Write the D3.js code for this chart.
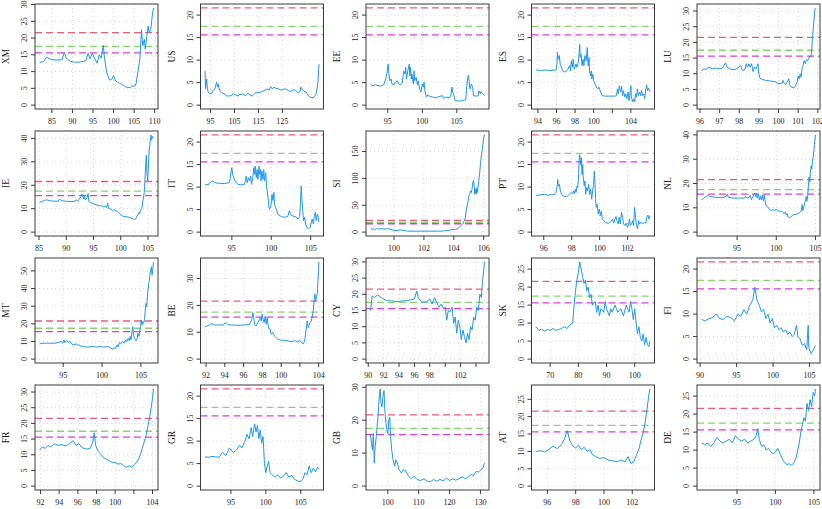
<!DOCTYPE html>
<html>
<head>
<meta charset="utf-8">
<script src="https://cdn.jsdelivr.net/npm/d3@7"></script>
<style>
  body { margin: 0; background: #fff; }
  text { font-family: "Liberation Serif", "DejaVu Serif", serif; fill: #222; }
</style>
</head>
<body>
<div id="chart"></div>
<script>
// panel order, row by row
const codes = ["XM", "US", "EE", "ES", "LU", "IE", "IT", "SI", "PT", "NL",
               "MT", "BE", "CY", "SK", "FI", "FR", "GR", "GB", "AT", "DE"];

// threshold levels drawn as dashed lines
const thresholds = [21.6, 17.5, 15.6];
const thresholdColors = ["#ec5a78", "#86d56f", "#d93fd6"];

// series: [time, value]
const XM = [[82,12.7],[83,13],[83.7,14.3],[84.5,13.8],[85.5,13.5],[86.5,13.4],[87.5,13.6],[88,15.8],[88.5,14],[89.5,13],[90.5,12.8],[91.5,12.8],[92.5,13],[93.3,13.3],[93.8,15.5],[94.3,13.8],[94.8,15.5],[95.3,14.2],[96,12.5],[96.5,15],[97,14],[97.5,17.8],[97.8,14],[98.3,10],[99,7.5],[99.5,7.6],[100,8.8],[100.5,7.2],[101,6.8],[101.5,6.5],[102,6.2],[102.5,5.8],[103,5.4],[103.5,5.3],[104,5.2],[104.5,5.8],[105.1,5.6],[105.5,6.5],[105.9,9.8],[106.4,13.7],[106.8,22.5],[107.1,17.7],[107.5,19.6],[107.7,16.7],[108,19.6],[108.4,23.6],[108.65,21.6],[109.05,22.6],[109.4,26.5],[109.7,29]];
const US = [[92.7,7.6],[92.9,3.6],[93.4,5.8],[93.6,4],[94.0,2.9],[94.7,2.5],[95.4,2.6],[96.1,3.2],[96.8,3.6],[97.5,5.1],[97.9,4],[98.2,4.7],[98.6,3.6],[99.2,3],[100.2,2.6],[101,2.4],[101.6,2.1],[102.5,2.0],[103.6,2.1],[104.5,2.5],[105.7,2.2],[106.5,2.0],[107.1,2.3],[108.4,2.5],[109.8,2.1],[110.5,2.6],[111.8,2.2],[112.5,2.0],[113.2,2.4],[114,2.9],[115,2.7],[116,2.9],[117.3,3.2],[118.7,3.6],[119.5,3.3],[120.1,4.1],[120.8,3.6],[121.5,4.0],[122.1,3.75],[123.5,3.6],[124.5,3.3],[125.5,3.5],[126.5,3.6],[127.6,3.2],[128.5,3.0],[129.7,3.4],[130.5,3.3],[131.5,2.8],[132.4,3.0],[132.7,4],[133.8,3.2],[134.9,2.9],[135.8,2.1],[136.5,1.8],[137.9,1.6],[138.6,2.1],[139.2,2.5],[139.9,5.1],[140.3,9.1]];
const EE = [[92.5,4.7],[92.7,4.3],[93.2,4.5],[93.9,4.2],[94.4,4.5],[94.7,5.8],[94.9,7.3],[95.05,9.1],[95.15,6.9],[95.3,5.4],[95.5,5.8],[95.6,4.7],[95.9,4.5],[96.1,5.1],[96.4,5.4],[96.6,4.7],[96.8,4.5],[97.1,4.9],[97.2,6.2],[97.3,7.6],[97.5,6.9],[97.6,8.4],[97.7,5.8],[97.9,7.6],[98.1,9.1],[98.2,6.5],[98.3,8.4],[98.4,5.8],[98.5,6.9],[98.7,4.7],[98.8,7.6],[98.9,5.4],[99.1,6.2],[99.3,4.5],[99.4,5.4],[99.6,3.6],[99.8,2.9],[100,4.7],[100.15,4.0],[100.25,5.1],[100.4,2.9],[100.6,1.8],[100.8,2.3],[101,2.0],[101.5,1.8],[101.9,1.6],[102.4,1.9],[102.9,2.1],[103.1,1.5],[103.4,1.8],[103.9,1.6],[104.1,1.9],[104.3,4.0],[104.4,2.9],[104.6,2.1],[104.75,1.0],[105.3,0.9],[105.8,1.0],[106.3,1.2],[106.4,3.6],[106.55,5.8],[106.7,6.7],[106.8,4.9],[106.9,3.6],[107.1,4.7],[107.3,4.0],[107.4,2.1],[107.8,2.0],[108.1,2.1],[108.2,3.2],[108.4,2.5],[108.5,3.0],[108.7,2.6],[109,2.1]];
const ES = [[93.8,7.8],[94.3,7.7],[94.8,7.8],[95.3,7.7],[95.95,7.8],[96.05,9.1],[96.1,11.7],[96.2,10.2],[96.3,11.0],[96.4,9.1],[96.6,8.0],[96.75,7.4],[97.0,7.4],[97.2,7.9],[97.4,8.75],[97.5,7.6],[97.6,9.85],[97.7,8.4],[97.8,10.2],[97.9,8.0],[98.1,9.1],[98.2,8.4],[98.35,9.5],[98.5,13.5],[98.55,10.6],[98.65,11.3],[98.75,8.75],[98.85,10.2],[98.95,8.75],[99.05,11.0],[99.2,9.85],[99.3,12.8],[99.4,8.75],[99.5,10.6],[99.55,7.6],[99.65,6.5],[99.75,7.6],[99.8,5.8],[99.9,6.9],[100.0,5.4],[100.2,4.5],[100.3,4.0],[100.45,3.6],[100.55,4.0],[100.75,2.9],[100.9,2.1],[101.2,2.0],[101.7,2.0],[102.3,2.0],[102.45,2.1],[102.55,3.6],[102.65,2.5],[102.75,4.3],[102.9,3.0],[103.0,4.2],[103.1,2.1],[103.2,3.2],[103.35,1.8],[103.45,2.5],[103.55,1.4],[103.7,2.9],[103.8,1.0],[103.9,2.5],[104.0,4.3],[104.05,1.8],[104.2,0.7],[104.3,1.4],[104.4,0.7],[104.5,2.5],[104.6,1.8],[104.7,3.6],[104.8,2.1],[104.95,2.9],[105.05,2.1],[105.15,3.2],[105.25,2.1],[105.35,2.5],[105.5,1.4],[105.6,3.6],[105.7,4.5],[105.8,3.2],[105.9,3.75],[106.05,3.0]];
const LU = [[96.08,11.05],[96.2,11.6],[96.3,11.4],[96.46,12.1],[96.63,11.6],[96.8,11.8],[96.97,11.6],[97.14,11.8],[97.22,12.6],[97.3,13.5],[97.39,12.1],[97.56,11.4],[97.81,11.4],[97.98,12.1],[98.07,12.6],[98.15,11.05],[98.29,11.4],[98.36,13.2],[98.42,12.1],[98.49,13.2],[98.56,12.1],[98.63,13.2],[98.7,10.7],[98.78,12.1],[98.86,11.6],[98.95,13.2],[99.0,10.0],[99.05,8.6],[99.17,8.2],[99.34,7.9],[99.59,7.7],[99.85,7.4],[100.02,6.8],[100.19,7.05],[100.22,7.9],[100.27,7.1],[100.36,6.5],[100.44,7.4],[100.53,8.4],[100.56,6.5],[100.64,5.8],[100.78,5.5],[100.86,6.1],[100.95,7.4],[101.0,9.3],[101.05,8.4],[101.1,10.0],[101.15,8.9],[101.2,11.6],[101.25,12.6],[101.3,14.2],[101.37,13.2],[101.42,14.5],[101.49,14.2],[101.54,14.9],[101.59,15.6],[101.64,15.2],[101.68,16.8],[101.71,20.0],[101.76,23.7],[101.81,27.4],[101.85,30.5],[101.88,31.0]];
const IE = [[85.1,12.7],[85.6,13.1],[86.0,13.5],[86.3,13.8],[87.0,13.4],[87.6,13.2],[88.5,13.2],[88.8,14.1],[89.1,13.5],[90.0,13.1],[90.9,13.1],[91.5,13.1],[91.8,13.8],[92.1,13.2],[92.4,14.1],[92.7,15.3],[92.9,16.3],[93.2,14.1],[93.35,15.6],[93.5,13.8],[93.8,14.6],[94.0,16.4],[94.15,13.1],[94.4,12.7],[94.75,12.4],[95.2,11.9],[95.6,11.6],[96.1,11.2],[96.4,11.35],[96.7,10.9],[97.2,10.9],[97.4,10.5],[97.6,12.4],[97.75,10.2],[98.2,9.75],[98.5,9.2],[98.8,9.5],[99.45,8.7],[99.75,8.0],[100.4,6.8],[101.0,6.55],[101.6,6.3],[102.1,5.8],[102.5,5.4],[102.8,5.8],[103.1,7.3],[103.3,8.3],[103.4,7.7],[103.7,9.5],[103.9,10.2],[104.0,12.4],[104.1,13.8],[104.3,16.7],[104.45,22.6],[104.6,29.8],[104.7,32.8],[104.8,25.5],[104.95,21.8],[105.05,26.9],[105.2,34.2],[105.3,36.4],[105.4,38.6],[105.55,41.5],[105.65,39.3],[105.85,40.8],[106.0,40.3]];
const IT = [[91.6,10.5],[91.9,10.6],[91.95,10.4],[92.2,11.0],[92.4,11.2],[92.6,11.35],[92.8,11.0],[93.2,10.85],[94.1,10.8],[94.7,11.0],[94.8,12.1],[94.9,13.55],[95.0,14.3],[95.1,12.8],[95.25,12.1],[95.4,11.35],[95.75,10.6],[96.2,10.5],[96.6,10.6],[96.75,11.7],[96.8,12.45],[96.95,11.0],[97.1,12.1],[97.25,11.35],[97.4,12.45],[97.5,10.6],[97.65,12.1],[97.8,14.3],[97.9,12.8],[97.95,14.65],[98.1,12.1],[98.2,13.9],[98.3,11.7],[98.45,14.65],[98.5,12.8],[98.65,13.9],[98.7,11.35],[98.8,13.55],[98.95,11.7],[99.05,13.9],[99.15,11.35],[99.3,13.2],[99.4,10.25],[99.6,7.7],[99.7,5.5],[99.8,5.1],[99.95,5.85],[100.1,8.4],[100.2,7.0],[100.35,8.8],[100.4,6.2],[100.55,5.5],[100.7,4.75],[100.85,3.9],[101.3,3.45],[101.7,3.3],[102.1,3.45],[102.3,4.75],[102.45,3.9],[102.75,3.6],[103.2,3.3],[103.4,2.9],[103.6,3.45],[103.7,6.2],[103.8,10.25],[103.9,7.0],[104.0,4.75],[104.1,2.55],[104.25,3.3],[104.35,1.8],[104.55,0.95],[104.75,0.8],[104.95,1.1],[105.1,2.2],[105.2,2.9],[105.35,1.8],[105.45,3.45],[105.6,4.4],[105.7,2.55],[105.85,4.0],[106.0,3.15],[106.05,2.2]];
const SI = [[98.43,8],[98.54,4.3],[98.65,6.1],[98.77,4.3],[98.88,7.4],[98.99,5.5],[99.1,6.7],[99.33,5.5],[99.55,6.1],[99.78,5.5],[100,3.1],[100.22,3.1],[100.45,4.3],[100.67,3.1],[100.9,1.8],[101.35,1.8],[101.8,1.8],[102.47,1.8],[103.14,1.8],[103.59,3.1],[103.81,4.3],[104.04,4.9],[104.26,6.1],[104.37,9.2],[104.48,12.3],[104.6,15.3],[104.71,21.5],[104.78,27.6],[104.84,42.9],[104.93,52.1],[105.0,67.5],[105.07,70.6],[105.11,76.7],[105.16,73.6],[105.22,79.8],[105.27,92],[105.31,96.3],[105.36,89],[105.4,70.6],[105.45,79.8],[105.49,70.6],[105.54,82.8],[105.58,73.6],[105.63,85.9],[105.67,95.1],[105.72,107.4],[105.78,125.8],[105.85,144.2],[105.92,156.4],[105.99,174.8],[106.05,181]];
const PT = [[95.45,8.05],[95.57,8.2],[95.81,8.3],[96.05,8.4],[96.29,8.2],[96.52,8.3],[96.76,8.3],[96.88,8.8],[96.95,9.9],[97.0,11.7],[97.05,10.25],[97.12,10.6],[97.19,9.15],[97.29,8.3],[97.48,7.85],[97.71,8.05],[97.83,8.4],[97.95,8.8],[98.07,8.55],[98.14,9.15],[98.19,8.55],[98.26,9.5],[98.31,8.8],[98.38,10.25],[98.43,9.9],[98.48,11.7],[98.55,17.2],[98.6,16.85],[98.64,15.0],[98.69,16.5],[98.74,12.8],[98.79,15.0],[98.83,12.1],[98.9,10.25],[98.95,11.35],[99.0,8.4],[99.07,9.9],[99.14,9.15],[99.21,10.6],[99.29,8.4],[99.36,9.5],[99.43,7.3],[99.5,9.15],[99.57,10.6],[99.62,13.55],[99.67,10.6],[99.71,7.3],[99.76,5.5],[99.83,6.2],[99.9,4.0],[99.98,5.1],[100.05,3.65],[100.12,4.6],[100.19,2.9],[100.29,2.55],[100.45,2.05],[100.69,2.0],[100.81,2.4],[100.93,2.9],[101.0,2.0],[101.1,2.9],[101.17,3.45],[101.24,2.55],[101.33,1.8],[101.4,3.3],[101.48,1.8],[101.57,4.4],[101.64,3.3],[101.71,1.8],[101.81,1.45],[101.9,2.0],[102.0,1.1],[102.07,1.8],[102.14,2.9],[102.19,1.45],[102.29,1.8],[102.36,2.55],[102.43,1.45],[102.5,5.5],[102.57,3.3],[102.64,1.45],[102.71,0.7],[102.79,2.55],[102.86,1.8],[102.95,2.2],[103.07,1.8],[103.19,2.2],[103.31,2.0],[103.38,3.3],[103.45,3.8],[103.52,2.9],[103.6,3.65]];
const NL = [[90.47,13.3],[90.68,13.7],[90.89,14.3],[91.1,14.7],[91.31,15.1],[91.53,14.7],[91.95,14.4],[92.58,14.3],[93.22,14.3],[93.64,14.7],[93.77,15.7],[93.9,14.3],[94.49,14.0],[95.34,14.0],[95.97,14.0],[96.1,14.7],[96.27,14.0],[96.53,14.3],[96.69,15.1],[96.82,13.3],[97.03,14.7],[97.25,16.0],[97.37,14.7],[97.46,16.0],[97.58,14.0],[97.71,15.6],[97.84,13.3],[97.97,14.7],[98.09,13.3],[98.22,15.3],[98.35,12.9],[98.47,15.3],[98.6,12.4],[98.73,10.7],[98.94,10.3],[99.15,9.3],[99.36,8.9],[99.58,9.3],[99.79,8.9],[100.0,9.3],[100.21,8.9],[100.42,8.4],[100.64,8.7],[100.85,8.0],[101.06,7.6],[101.19,8.4],[101.27,7.1],[101.4,7.6],[101.48,6.3],[101.69,6.0],[101.91,6.3],[102.12,7.1],[102.54,7.3],[102.97,8.0],[103.18,8.7],[103.31,11.3],[103.39,8.9],[103.47,9.3],[103.6,12.0],[103.73,12.7],[103.81,14.7],[103.9,12.7],[104.03,15.3],[104.11,19.3],[104.19,22.7],[104.28,20.7],[104.36,24.7],[104.45,27.3],[104.53,26.0],[104.62,29.3],[104.7,30.7],[104.79,33.3],[104.87,36.0],[104.96,38.7],[105.0,40.0]];
const MT = [[91.96,8.6],[92.39,9.0],[92.83,9.0],[93.26,9.0],[93.91,9.0],[94.35,9.4],[94.78,10.0],[94.91,9.0],[95.09,10.9],[95.22,9.4],[95.43,10.5],[95.65,9.4],[95.87,10.0],[96.09,8.6],[96.3,8.1],[96.74,8.6],[97.17,7.5],[97.61,7.1],[98.04,6.8],[98.91,7.1],[99.35,6.8],[99.78,7.1],[100.22,6.8],[100.65,7.1],[101.09,6.6],[101.3,5.6],[101.52,6.2],[101.74,6.2],[101.96,8.1],[102.09,6.8],[102.22,9.4],[102.39,8.6],[102.61,10.0],[102.83,9.0],[103.04,10.9],[103.17,10.0],[103.35,11.8],[103.48,10.5],[103.61,12.8],[103.74,10.9],[103.83,14.7],[103.96,18.4],[104.04,13.7],[104.17,11.8],[104.35,10.5],[104.48,10.9],[104.61,14.7],[104.74,12.8],[104.83,15.6],[104.96,18.4],[105.04,22.2],[105.13,19.4],[105.22,21.2],[105.35,20.3],[105.48,23.1],[105.57,28.8],[105.65,31.6],[105.74,29.7],[105.83,35.3],[105.91,39.1],[106.0,42.9],[106.09,44.7],[106.17,48.5],[106.26,50.4],[106.35,52.3],[106.43,47.6],[106.52,50.4],[106.61,55.1]];
const BE = [[91.89,12.0],[92.11,12.35],[92.36,12.7],[92.53,13.2],[92.71,12.95],[92.89,12.7],[93.25,12.7],[93.78,12.7],[94.14,13.6],[94.31,12.95],[94.67,12.7],[95.38,12.6],[96.09,12.7],[96.63,12.95],[96.73,13.6],[96.88,14.8],[96.98,17.3],[97.09,15.4],[97.16,12.95],[97.34,12.35],[97.52,13.6],[97.69,14.8],[97.8,15.4],[97.87,14.2],[97.98,16.7],[98.09,14.8],[98.19,13.6],[98.3,16.0],[98.41,12.95],[98.51,15.4],[98.62,12.35],[98.73,11.1],[98.83,11.1],[98.94,9.3],[99.12,9.9],[99.3,8.6],[99.47,8.0],[99.65,7.4],[100.01,7.0],[100.36,7.0],[100.72,6.8],[101.07,6.5],[101.43,6.8],[101.79,6.5],[101.96,7.0],[102.14,6.5],[102.32,5.6],[102.5,6.5],[102.6,9.3],[102.71,12.35],[102.78,14.2],[102.89,11.7],[103.0,12.95],[103.1,13.6],[103.21,14.2],[103.32,16.0],[103.42,17.9],[103.53,22.2],[103.6,24.3],[103.67,21.6],[103.74,22.8],[103.85,24.1],[103.92,29.0],[103.99,32.7],[104.03,36.2]];
const CY = [[90.3,15],[90.5,19.5],[90.8,19],[91.2,19.8],[91.6,19.2],[92,18.5],[92.5,18],[93,18],[93.5,17.8],[94,17.8],[94.5,18],[95,18],[95.5,18.3],[96,18.5],[96.3,21],[96.5,19],[96.8,18],[97.2,17.5],[97.6,17.8],[98,18.5],[98.3,17],[98.6,19],[98.9,17.5],[99.2,16],[99.5,17],[99.8,15.5],[100,16],[100.2,12],[100.4,15],[100.6,14.5],[100.9,16],[101.1,11],[101.3,13],[101.5,8],[101.7,12],[101.9,10],[102.1,6],[102.3,9],[102.5,7],[102.7,5],[102.9,8],[103.1,6],[103.3,10],[103.5,9],[103.7,13],[103.9,12],[104.1,16],[104.3,15],[104.5,20],[104.7,19],[104.85,24],[105,27],[105.1,30]];
const SK = [[65,9],[66,8],[67,8.3],[68,7.8],[69,8.2],[70,8],[71,8.5],[72,8],[73,8.2],[74,8.5],[75,9],[76,8.5],[77,9.5],[78,10],[78.5,15],[79,19],[79.5,22],[80,24],[80.5,27],[81,25],[81.5,23],[82,21],[82.5,22],[83,19],[83.5,20],[84,17],[84.5,18],[85,15],[86,16],[86.5,13],[87,15],[87.5,12],[88,14],[89,13],[89.5,16],[90,14],[91,12],[91.5,14],[92,13],[93,15],[94,13],[95,14],[96,12],[97,15],[98,13],[98.5,16],[99,14],[99.5,11],[100,14],[100.5,10],[101,7],[101.5,9],[102,6],[102.5,5],[103,7],[103.5,4],[104,6],[104.5,4],[105,3.5],[105.4,5]];
const FI = [[90.2,8.8],[90.7,8.5],[91.2,9],[91.7,9.2],[92.2,10],[92.7,9],[93.2,8.8],[93.7,9.5],[94.2,9.2],[94.7,8.5],[95.2,10],[95.6,9.5],[96,11],[96.4,10],[96.8,12],[97.2,13],[97.5,16],[97.8,13],[98.1,12],[98.4,10.5],[98.7,11],[99,9],[99.3,10],[99.6,8],[99.9,9],[100.2,7],[100.5,7.5],[100.8,6.5],[101.1,7],[101.4,6],[101.7,6.5],[102,5.5],[102.3,6],[102.6,5],[102.9,5.5],[103.2,7.5],[103.4,5],[103.7,4.5],[104,3],[104.3,3.5],[104.6,2],[104.8,7.5],[104.9,2.5],[105.2,1.2],[105.5,2],[105.8,3]];
const FR = [[91.9,11.5],[92.2,12.5],[92.5,12],[92.8,13],[93.1,12.5],[93.5,13.5],[93.9,13],[94.3,13.2],[94.7,12.8],[95.1,13.5],[95.5,14.5],[95.8,13],[96.1,13.5],[96.5,12.2],[96.9,11.8],[97.3,12],[97.6,14],[97.75,17],[97.9,13],[98.2,11],[98.5,10],[98.8,9],[99.1,8.5],[99.4,8],[99.7,7.5],[100,7.5],[100.3,7],[100.6,7.2],[100.9,6.5],[101.2,6],[101.5,6.5],[101.8,6],[102.1,7],[102.4,8],[102.7,10],[102.9,12],[103.1,14],[103.3,16],[103.5,19],[103.7,22],[103.85,25],[104,28],[104.1,31]];
const GR = [[91.3,6.5],[91.8,6.4],[92.3,6.6],[92.8,6.5],[93.3,6.4],[93.8,7.5],[94.3,6.8],[94.8,8.5],[95.3,7.5],[95.8,8],[96.2,9],[96.6,8.5],[97,10],[97.3,11.5],[97.6,10.5],[97.9,13],[98.1,11],[98.4,13.8],[98.6,12],[98.8,13.5],[99,10.5],[99.2,12.5],[99.4,9.5],[99.6,11],[99.8,5],[100,3],[100.2,4.5],[100.4,5.5],[100.6,3],[100.9,2.5],[101.3,2],[101.7,2.5],[102.1,1.8],[102.5,2.2],[102.9,3],[103.3,2],[103.7,2.4],[104.1,1.5],[104.5,1.2],[104.9,1],[105.3,1.5],[105.6,3],[105.9,2.5],[106.2,4.5],[106.5,3],[106.8,4],[107.1,3.2],[107.4,4.2],[107.6,3.8]];
const GB = [[94.4,15.5],[94.7,13],[95,11],[95.3,16],[95.6,7],[95.9,12],[96.25,15],[96.6,19],[96.9,22],[97.2,27],[97.5,29.5],[97.8,25],[98.1,24],[98.4,27],[98.75,29],[99.1,22],[99.4,19],[99.7,17],[100,16],[100.3,20],[100.6,21],[100.9,15],[101.25,11],[101.7,8],[102.2,6],[102.6,8],[103.1,7],[103.6,5],[104.4,4],[105,5],[105.9,4.5],[106.7,3],[107.5,2.3],[108.5,3],[109.5,2],[110.6,1.7],[111.7,2.2],[112.8,1.5],[113.75,1.3],[114.8,2],[115.8,1.5],[116.9,2],[118,1.6],[119,2.4],[120,1.7],[121,2.2],[122,1.8],[123.1,2.3],[124.2,2.8],[125.2,2.2],[126.25,3],[127,3.5],[127.8,3.2],[128.6,4.5],[129.4,4.3],[130.2,5],[130.9,5.6],[131.3,7]];
const AT = [[95.2,10],[95.5,10.2],[95.8,9.8],[96.1,10.5],[96.4,11.5],[96.7,10.8],[97,12],[97.2,13.5],[97.4,16],[97.6,13],[97.8,11.5],[98,11],[98.2,11.8],[98.4,10.5],[98.6,11.2],[98.8,10],[99,10.5],[99.2,9],[99.4,8.5],[99.7,8],[100,8.2],[100.3,7.5],[100.6,7.3],[100.9,7],[101.2,7.5],[101.5,7],[101.7,8.5],[101.9,6.5],[102.1,7],[102.3,9],[102.5,11],[102.6,13],[102.75,15],[102.9,18],[103,21],[103.1,24],[103.2,27],[103.25,28]];
const DE = [[90.4,12],[90.8,11.5],[91.2,12],[91.6,11],[92,12],[92.4,13.5],[92.8,12.5],[93.2,12],[93.6,12.5],[94,13],[94.4,12],[94.8,14],[95.2,13],[95.6,12.5],[96,13],[96.4,12],[96.8,12.5],[97.2,13],[97.5,14],[97.7,16],[97.9,13],[98.2,11],[98.5,11.5],[98.8,10],[99.1,10.5],[99.4,9.5],[99.7,9],[100,9.5],[100.3,10.5],[100.6,9],[100.9,7.5],[101.2,6.5],[101.5,6],[101.8,6.2],[102.1,5.8],[102.4,6.5],[102.7,8],[102.9,10],[103.1,12],[103.3,15],[103.5,17],[103.7,19],[103.9,18],[104.1,23],[104.3,21],[104.5,24],[104.7,22],[104.9,26],[105.1,25],[105.2,27]];

const series = {XM, US, EE, ES, LU, IE, IT, SI, PT, NL, MT, BE, CY, SK, FI, FR, GR, GB, AT, DE};

// axis ticks per panel
const xTicks = {
  XM: [85, 90, 95, 100, 105, 110], US: [95, 105, 115, 125], EE: [95, 100, 105],
  ES: [94, 96, 98, 100, 102, 104], LU: [96, 97, 98, 99, 100, 101, 102],
  IE: [85, 90, 95, 100, 105], IT: [95, 100, 105], SI: [100, 102, 104, 106],
  PT: [96, 98, 100, 102], NL: [95, 100, 105], MT: [95, 100, 105],
  BE: [92, 94, 96, 98, 100, 102, 104], CY: [90, 92, 94, 96, 98, 100, 102, 104],
  SK: [70, 80, 90, 100], FI: [90, 95, 100, 105], FR: [92, 94, 96, 98, 100, 102, 104],
  GR: [95, 100, 105], GB: [100, 110, 120, 130], AT: [96, 98, 100, 102], DE: [95, 100, 105]
};
// tick labels R dropped because they would overlap
const xHidden = { ES: [102], BE: [102], CY: [100, 104], FR: [102] };
const yTicks = {
  XM: [0, 5, 10, 15, 20, 25, 30], US: [0, 5, 10, 15, 20], EE: [0, 5, 10, 15, 20],
  ES: [0, 5, 10, 15, 20], LU: [0, 5, 10, 15, 20, 25, 30], IE: [0, 10, 20, 30, 40],
  IT: [0, 5, 10, 15, 20], SI: [0, 50, 100, 150], PT: [0, 5, 10, 15, 20],
  NL: [0, 10, 20, 30, 40], MT: [0, 10, 20, 30, 40, 50], BE: [0, 10, 20, 30],
  CY: [0, 5, 10, 15, 20, 25, 30], SK: [0, 5, 10, 15, 20, 25], FI: [0, 5, 10, 15, 20],
  FR: [0, 5, 10, 15, 20, 25, 30], GR: [0, 5, 10, 15, 20], GB: [0, 10, 20, 30],
  AT: [0, 5, 10, 15, 20, 25], DE: [0, 5, 10, 15, 20, 25]
};

const width = 822, height = 509;
const colStep = 165.5, rowStep = 127;
const plotLeft = 35, plotTop = 4, plotW = 123, plotH = 105;

const svg = d3.select("#chart").append("svg")
  .attr("width", width)
  .attr("height", height)
  .style("background", "#fff");

codes.forEach((code, i) => {
  const col = i % 5, row = Math.floor(i / 5);
  const data = series[code];
  const x0 = plotLeft + col * colStep;
  const y0 = plotTop + row * rowStep;

  // R-style 4% padding on both axes, y always starts at 0
  const xExt = d3.extent(data, d => d[0]);
  const xPad = (xExt[1] - xExt[0]) * 0.04;
  const yMax = Math.max(d3.max(data, d => d[1]), d3.max(thresholds));
  const yPad = yMax * 0.04;

  const x = d3.scaleLinear().domain([xExt[0] - xPad, xExt[1] + xPad]).range([x0, x0 + plotW]);
  const y = d3.scaleLinear().domain([-yPad, yMax + yPad]).range([y0 + plotH, y0]);

  const g = svg.append("g").attr("class", "panel-" + code);

  // grid
  g.selectAll(".vgrid").data(xTicks[code]).join("line")
    .attr("x1", d => x(d)).attr("x2", d => x(d))
    .attr("y1", y0).attr("y2", y0 + plotH)
    .attr("stroke", "#c8c8c8").attr("stroke-width", 0.8)
    .attr("stroke-dasharray", "1,3");
  g.selectAll(".hgrid").data(yTicks[code]).join("line")
    .attr("x1", x0).attr("x2", x0 + plotW)
    .attr("y1", d => y(d)).attr("y2", d => y(d))
    .attr("stroke", "#c8c8c8").attr("stroke-width", 0.8)
    .attr("stroke-dasharray", "1,3");

  // thresholds
  g.selectAll(".thr").data(thresholds).join("line")
    .attr("x1", x0).attr("x2", x0 + plotW)
    .attr("y1", d => y(d)).attr("y2", d => y(d))
    .attr("stroke", (d, k) => thresholdColors[k])
    .attr("stroke-width", 1.3)
    .attr("stroke-dasharray", "7,4");

  // series
  const line = d3.line().x(d => x(d[0])).y(d => y(d[1]));
  g.append("path")
    .datum(data)
    .attr("d", line)
    .attr("fill", "none")
    .attr("stroke", "#2196ee")
    .attr("stroke-width", 1)
    .attr("stroke-linejoin", "round");

  // box
  g.append("rect")
    .attr("x", x0).attr("y", y0)
    .attr("width", plotW).attr("height", plotH)
    .attr("fill", "none")
    .attr("stroke", "#3a3a3a")
    .attr("stroke-width", 1);

  // x axis ticks + labels
  const hidden = xHidden[code] || [];
  xTicks[code].forEach(t => {
    const px = x(t);
    g.append("line")
      .attr("x1", px).attr("x2", px)
      .attr("y1", y0 + plotH).attr("y2", y0 + plotH + 4)
      .attr("stroke", "#3a3a3a");
    if (!hidden.includes(t)) {
      g.append("text")
        .attr("x", px).attr("y", y0 + plotH + 15)
        .attr("text-anchor", "middle")
        .style("font-size", "8px")
        .text(t);
    }
  });

  // y axis ticks + rotated labels
  yTicks[code].forEach(t => {
    const py = y(t);
    g.append("line")
      .attr("x1", x0 - 4).attr("x2", x0)
      .attr("y1", py).attr("y2", py)
      .attr("stroke", "#3a3a3a");
    g.append("text")
      .attr("transform", `translate(${x0 - 8},${py}) rotate(-90)`)
      .attr("text-anchor", "middle")
      .style("font-size", "8px")
      .text(t);
  });

  // country label
  g.append("text")
    .attr("transform", `translate(${x0 - 26},${y0 + plotH / 2}) rotate(-90)`)
    .attr("text-anchor", "middle")
    .style("font-size", "9.5px")
    .text(code);
});
</script>
</body>
</html>
